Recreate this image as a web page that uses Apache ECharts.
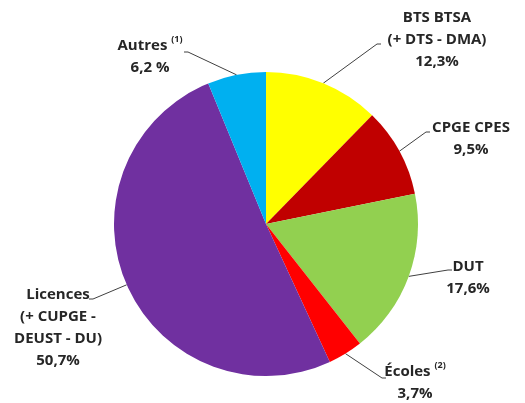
<!DOCTYPE html>
<html>
<head>
<meta charset="utf-8">
<script src="https://cdn.jsdelivr.net/npm/echarts@6/dist/echarts.min.js"></script>
<style>
  html, body { margin: 0; padding: 0; background: #fff; }
</style>
</head>
<body>
<div id="chart" style="width: 525px; height: 403px"></div>
<script>
// données
const categories = ['BTS BTSA', 'CPGE CPES', 'DUT', 'Écoles', 'Licences', 'Autres']
const labelTexts = [
  '{b|BTS BTSA}\n{b|(+ DTS - DMA)}\n{b|12,3%}',
  '{b|CPGE CPES}\n{b|9,5%}',
  '{b|DUT}\n{b|17,6%}',
  '{b|Écoles }{s|(2)}\n{b|3,7%}',
  '{b|Licences}\n{b|(+ CUPGE -}\n{b|DEUST - DU)}\n{b|50,7%}',
  '{b|Autres }{s|(1)}\n{b|6,2 %}',
]
const values = [12.3, 9.5, 17.6, 3.7, 50.7, 6.2]
const colors = ['#FFFF00', '#C00000', '#92D050', '#FF0000', '#7030A0', '#00B0F0']

// position des étiquettes (centre du bloc de texte) et bout du trait de rappel
const labelPos = [
  [437, 40],
  [471, 139],
  [468, 278],
  [415, 383],
  [58, 328],
  [150, 57],
]
const lineEnd = [
  [381, 44, -4],
  [430, 132, -4],
  [452, 270, -4],
  [386, 378, -4],
  [89, 299, 4],
  [184, 52, 4],
]

const chart = echarts.init(document.getElementById('chart'))
chart.setOption({
  animation: false,
  series: [
    {
      type: 'pie',
      center: [266, 224],
      radius: [0, 152],
      startAngle: 90,
      clockwise: true,
      silent: true,
      itemStyle: { borderWidth: 0 },
      label: {
        show: true,
        position: 'outside',
        align: 'center',
        overflow: 'none',
        lineHeight: 22,
        rich: {
          b: { fontFamily: 'Open Sans', fontWeight: 'bold', fontSize: 15, color: '#262626', lineHeight: 22 },
          s: { fontFamily: 'Open Sans', fontWeight: 'bold', fontSize: 9, color: '#262626', lineHeight: 22, verticalAlign: 'top', padding: [0, 0, 6, 0] },
        },
      },
      labelLine: {
        show: true,
        length: 20,
        length2: 20,
        lineStyle: { color: '#404040', width: 1 },
      },
      labelLayout: (params) => {
        const i = params.dataIndex
        const p = labelPos[i]
        const e = lineEnd[i]
        const start = params.labelLinePoints[0]
        return {
          x: p[0], y: p[1], align: 'center', verticalAlign: 'middle',
          labelLinePoints: [start, [e[0] + e[2], e[1]], [e[0], e[1]]],
        }
      },
      data: categories.map((c, i) => ({
        name: c,
        value: values[i],
        itemStyle: { color: colors[i] },
        label: { formatter: labelTexts[i] },
      })),
    },
  ],
})
</script>
</body>
</html>
